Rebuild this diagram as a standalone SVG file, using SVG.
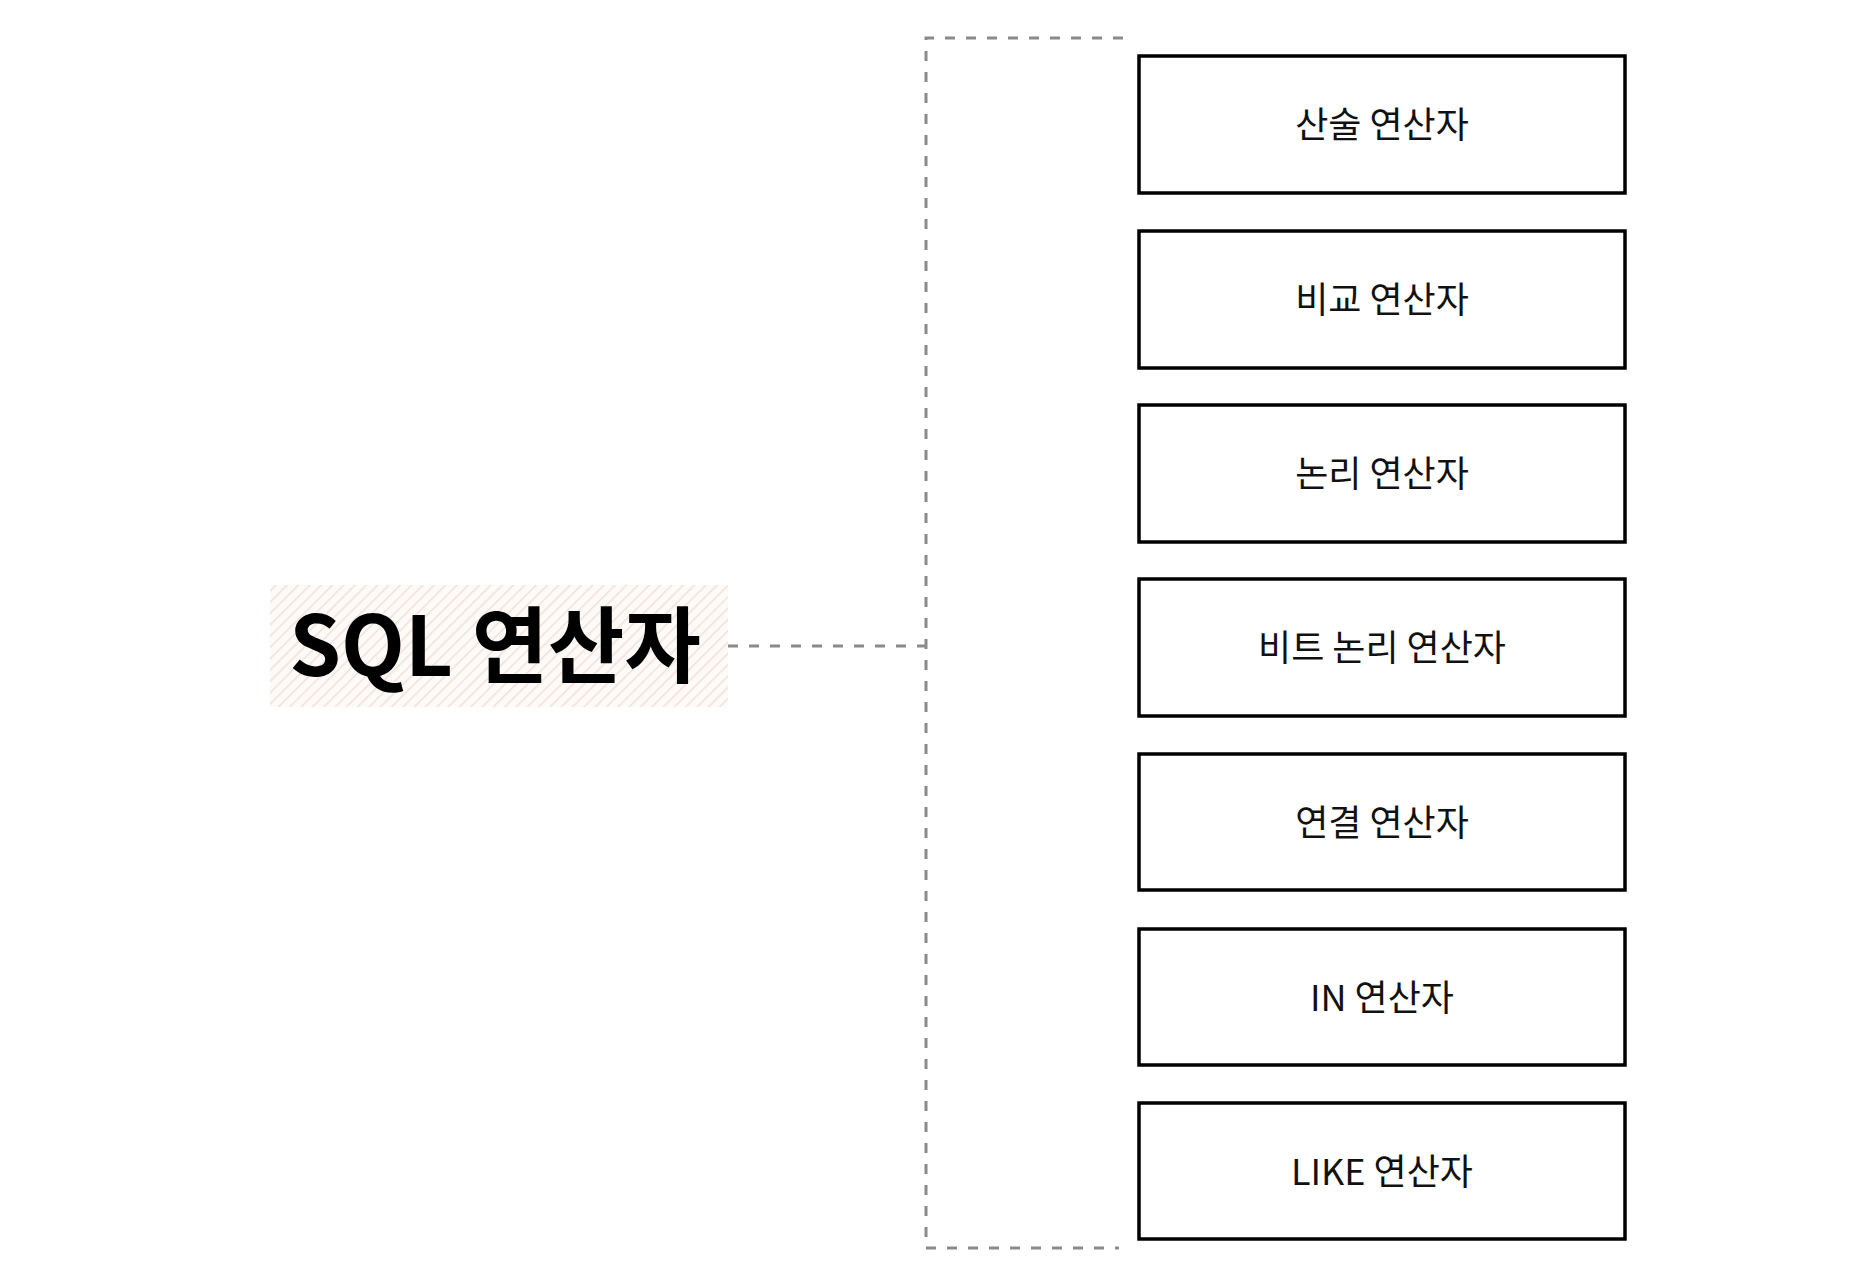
<svg xmlns="http://www.w3.org/2000/svg" width="1849" height="1283" viewBox="0 0 1849 1283">
<style>
.box{fill:#fff;stroke:#000;stroke-width:3.5}
.lbl{font-family:"Noto Sans CJK KR","Noto Sans",sans-serif;font-size:36px;fill:#111;text-anchor:middle;dominant-baseline:central}
.title{font-family:"Noto Sans CJK KR","Noto Sans",sans-serif;font-size:83px;font-weight:700;fill:#000;text-anchor:middle}
.dash{fill:none;stroke:#8a8a8a;stroke-width:3;stroke-dasharray:10 11}
</style>
<defs>
<pattern id="hatch" width="8" height="8" patternUnits="userSpaceOnUse" patternTransform="rotate(45)">
<rect width="8" height="8" fill="#fdfaf8"/>
<line x1="0" y1="0" x2="0" y2="8" stroke="#f1e1d9" stroke-width="3"/>
</pattern>
</defs>
<rect width="1849" height="1283" fill="#fff"/>
<g id="connectors">
<path class="dash" d="M1123 38 H926 V1248 H1119"/>
<path class="dash" d="M728 646 H926"/>
</g>
<g id="root">
<rect x="270" y="585" width="458" height="122" fill="url(#hatch)"/>
<text class="title" x="495" y="676">SQL 연산자</text>
</g>
<g id="n1"><rect class="box" x="1139" y="56" width="486" height="137"/><text class="lbl" x="1382" y="122">산술 연산자</text></g>
<g id="n2"><rect class="box" x="1139" y="231" width="486" height="137"/><text class="lbl" x="1382" y="297">비교 연산자</text></g>
<g id="n3"><rect class="box" x="1139" y="405" width="486" height="137"/><text class="lbl" x="1382" y="471">논리 연산자</text></g>
<g id="n4"><rect class="box" x="1139" y="579" width="486" height="137"/><text class="lbl" x="1382" y="645">비트 논리 연산자</text></g>
<g id="n5"><rect class="box" x="1139" y="754" width="486" height="136"/><text class="lbl" x="1382" y="820">연결 연산자</text></g>
<g id="n6"><rect class="box" x="1139" y="929" width="486" height="136"/><text class="lbl" x="1382" y="995">IN 연산자</text></g>
<g id="n7"><rect class="box" x="1139" y="1103" width="486" height="136"/><text class="lbl" x="1382" y="1169">LIKE 연산자</text></g>
</svg>
